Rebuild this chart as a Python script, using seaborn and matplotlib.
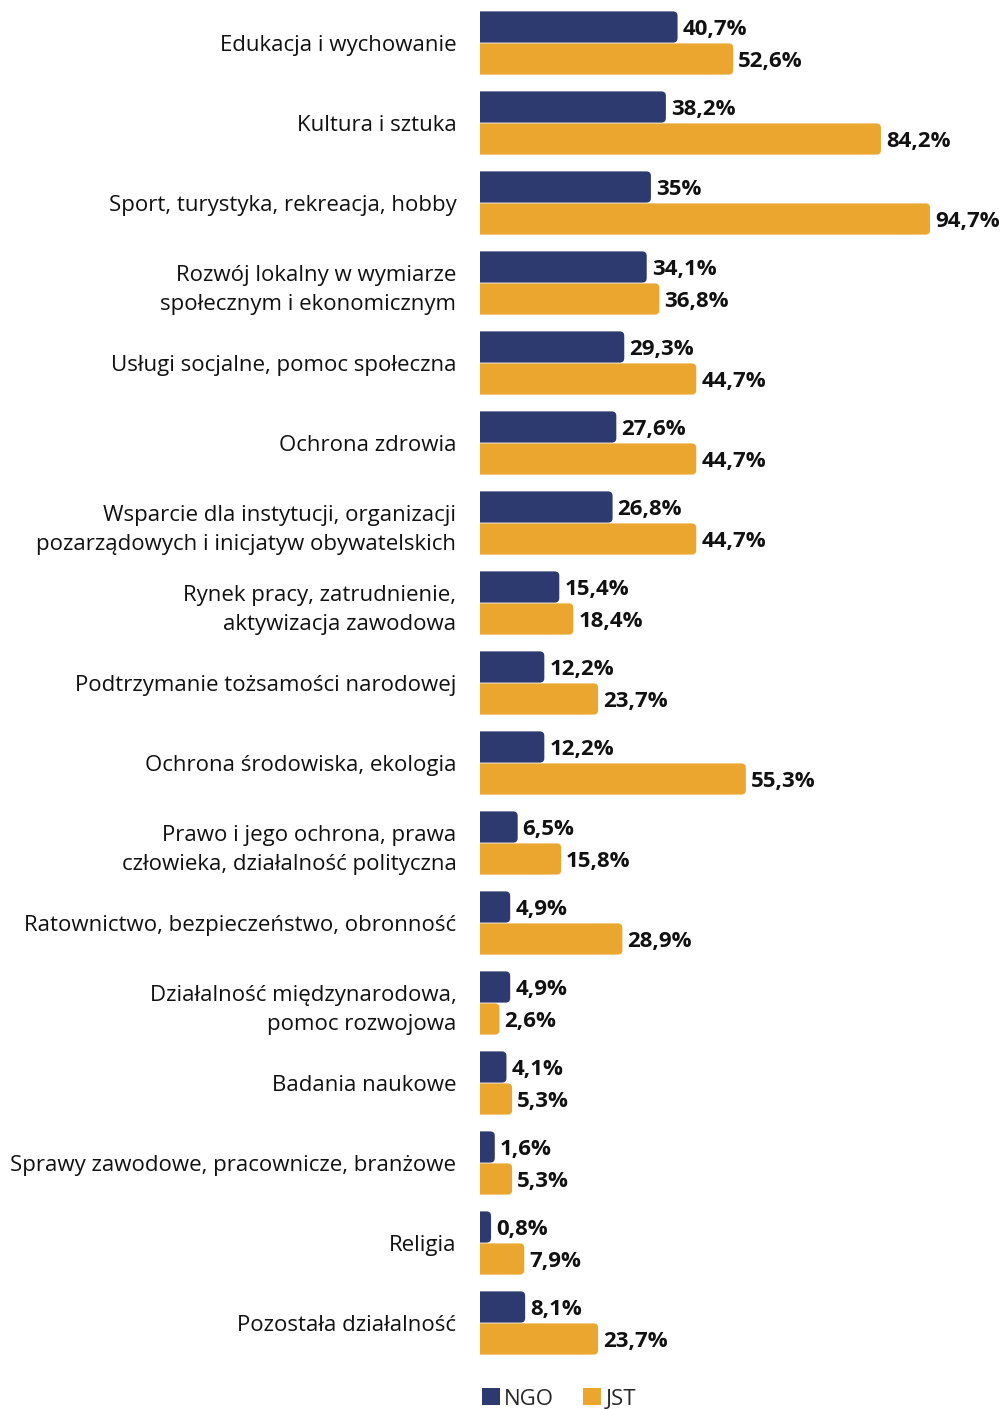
import matplotlib
matplotlib.use("Agg")
import matplotlib.pyplot as plt
import seaborn as sns
import pandas as pd
from matplotlib.patches import FancyBboxPatch, Patch

categories = [
    "Edukacja i wychowanie",
    "Kultura i sztuka",
    "Sport, turystyka, rekreacja, hobby",
    "Rozwój lokalny w wymiarze\nspołecznym i ekonomicznym",
    "Usługi socjalne, pomoc społeczna",
    "Ochrona zdrowia",
    "Wsparcie dla instytucji, organizacji\npozarządowych i inicjatyw obywatelskich",
    "Rynek pracy, zatrudnienie,\naktywizacja zawodowa",
    "Podtrzymanie tożsamości narodowej",
    "Ochrona środowiska, ekologia",
    "Prawo i jego ochrona, prawa\nczłowieka, działalność polityczna",
    "Ratownictwo, bezpieczeństwo, obronność",
    "Działalność międzynarodowa,\npomoc rozwojowa",
    "Badania naukowe",
    "Sprawy zawodowe, pracownicze, branżowe",
    "Religia",
    "Pozostała działalność",
]
ngo = [40.7, 38.2, 35.0, 34.1, 29.3, 27.6, 26.8, 15.4, 12.2, 12.2, 6.5, 4.9, 4.9, 4.1, 1.6, 0.8, 8.1]
jst = [52.6, 84.2, 94.7, 36.8, 44.7, 44.7, 44.7, 18.4, 23.7, 55.3, 15.8, 28.9, 2.6, 5.3, 5.3, 7.9, 23.7]
groups = ["NGO", "JST"]
colors = {"NGO": "#2D3A70", "JST": "#EAA62E"}

df = pd.DataFrame({
    "kategoria": categories * 2,
    "grupa": ["NGO"] * len(categories) + ["JST"] * len(categories),
    "wartosc": ngo + jst,
})

sns.set_theme(style="white")
plt.rcParams["font.family"] = ["Open Sans", "DejaVu Sans"]

W, H = 1001, 1409
fig = plt.figure(figsize=(W / 100, H / 100), dpi=100)
ax_left, ax_top, ax_bottom = 480, 3, 1363
ax = fig.add_axes([ax_left / W, 1 - ax_bottom / H, (W - ax_left) / W, (ax_bottom - ax_top) / H])

sns.barplot(data=df, y="kategoria", x="wartosc", hue="grupa", order=categories,
            hue_order=groups, palette=colors, orient="h", width=0.8, ax=ax,
            legend=False, errorbar=None, saturation=1)

# every bar carries a short stub to the left of zero
px_x = 4.675
x0_lim = -7.3 / px_x
xmax = x0_lim + (W - ax_left) / px_x
ax.set_xlim(x0_lim, xmax)
ax.set_ylim(len(categories) - 0.5, -0.5)

# swap plain rectangles for bars with rounded ends
px_y = (ax_bottom - ax_top) / len(categories)
radius = 4.5 / px_x
start = x0_lim - 2 * radius
rects = [p for p in ax.patches]
for p in rects:
    y0 = p.get_y()
    w, h = p.get_width(), p.get_height()
    fc = p.get_facecolor()
    p.remove()
    gap = 0.8 / px_y
    fb = FancyBboxPatch((start, y0 + gap / 2), w - start, h - gap,
                        boxstyle=f"round,pad=0,rounding_size={radius}",
                        mutation_aspect=px_x / px_y, facecolor=fc,
                        edgecolor="none", clip_on=True)
    ax.add_patch(fb)
    label = f"{w:.1f}".replace(".", ",")
    if label.endswith(",0"):
        label = label[:-2]
    ax.text(w + 5 / px_x, y0 + h / 2 + 2.5 / px_y, label + "%", va="center", ha="left",
            fontsize=16, fontweight="bold", color="#111111", clip_on=False)

ax.set_xlabel("")
ax.set_ylabel("")
ax.set_xticks([])
ax.tick_params(axis="y", length=0, pad=17, labelsize=16, labelcolor="#111111")
for lab in ax.get_yticklabels():
    lab.set_multialignment("right")
    lab.set_linespacing(1.55)
for s in ax.spines.values():
    s.set_visible(False)

handles = [Patch(facecolor=colors[g], edgecolor="none", label=g) for g in groups]
fig.legend(handles=handles, loc="center left", bbox_to_anchor=(482 / W, 1 - 1399 / H),
           ncol=2, frameon=False, fontsize=16, handlelength=0.8, handleheight=0.8,
           handletextpad=0.2, columnspacing=1.3, borderaxespad=0, borderpad=0)

fig.savefig("out.png", dpi=100)
